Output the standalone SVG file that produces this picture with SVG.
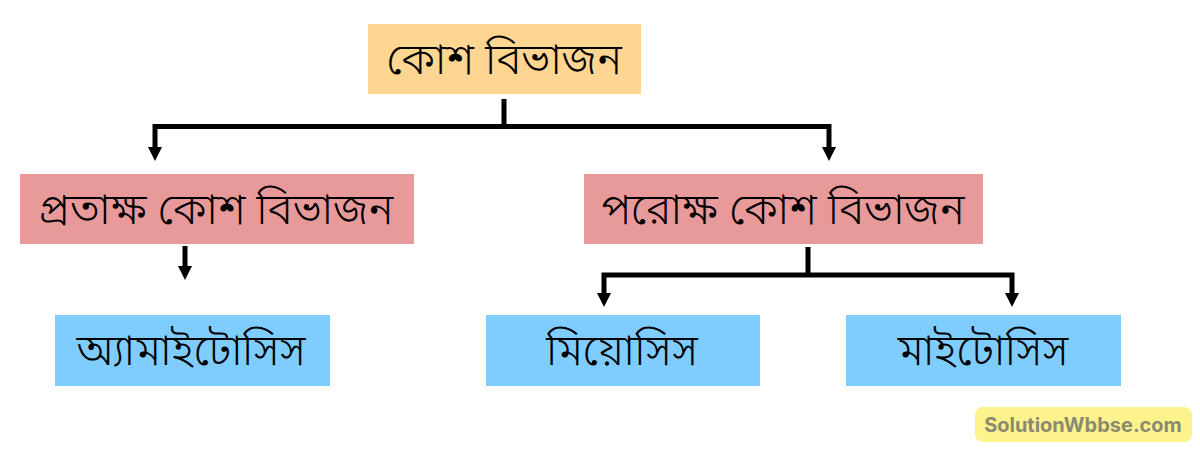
<svg xmlns="http://www.w3.org/2000/svg" width="1200" height="449" viewBox="0 0 1200 449">
<defs>
<style>
.t{font-family:"Noto Sans Bengali","Noto Serif Bengali","Noto Sans",sans-serif;font-size:43px;font-weight:300;fill:#000;text-anchor:middle;}
.c{stroke:#000;stroke-width:5;fill:none;}
.top{fill:#FFD592;}
.mid{fill:#E89A9A;}
.bot{fill:#7FCCFE;}
</style>
</defs>
<rect width="1200" height="449" fill="#fff"/>
<g id="connectors">
<path class="c" d="M504 99V126.5M155 126.5H829M155 124V150M829 124V150"/>
<path class="c" d="M185 246V268"/>
<path class="c" d="M808 247V275M604 275H1012M604 272.5V294M1012 272.5V294"/>
<g fill="#000">
<polygon points="148,147 162,147 155,161"/>
<polygon points="822,147 836,147 829,161"/>
<polygon points="178,266 192,266 185,280"/>
<polygon points="597,293 611,293 604,307"/>
<polygon points="1005,293 1019,293 1012,307"/>
</g>
</g>
<g id="n-root">
<rect class="top" x="368" y="24" width="273" height="70"/>
<text class="t" x="504" y="74" font-size="44">কোশ বিভাজন</text>
</g>
<g id="n-direct">
<rect class="mid" x="20" y="174" width="394" height="70"/>
<text class="t" x="216" y="224">প্রতাক্ষ কোশ বিভাজন</text>
</g>
<g id="n-indirect">
<rect class="mid" x="584" y="174" width="399" height="70"/>
<text class="t" x="783" y="224">পরোক্ষ কোশ বিভাজন</text>
</g>
<g id="n-amitosis">
<rect class="bot" x="55" y="315" width="275" height="71"/>
<text class="t" x="191" y="365" font-size="44">অ্যামাইটোসিস</text>
</g>
<g id="n-meiosis">
<rect class="bot" x="486" y="315" width="274" height="71"/>
<text class="t" x="622" y="365" font-size="44">মিয়োসিস</text>
</g>
<g id="n-mitosis">
<rect class="bot" x="846" y="315" width="275" height="71"/>
<text class="t" x="983" y="365" font-size="44">মাইটোসিস</text>
</g>
<g id="watermark">
<rect x="975" y="407" width="217" height="35" rx="8" fill="#FDF38C"/>
<text x="1083" y="432" font-family="Inter,'Open Sans',sans-serif" font-weight="700" font-size="20" fill="#8A8A70" text-anchor="middle">SolutionWbbse.com</text>
</g>
</svg>
